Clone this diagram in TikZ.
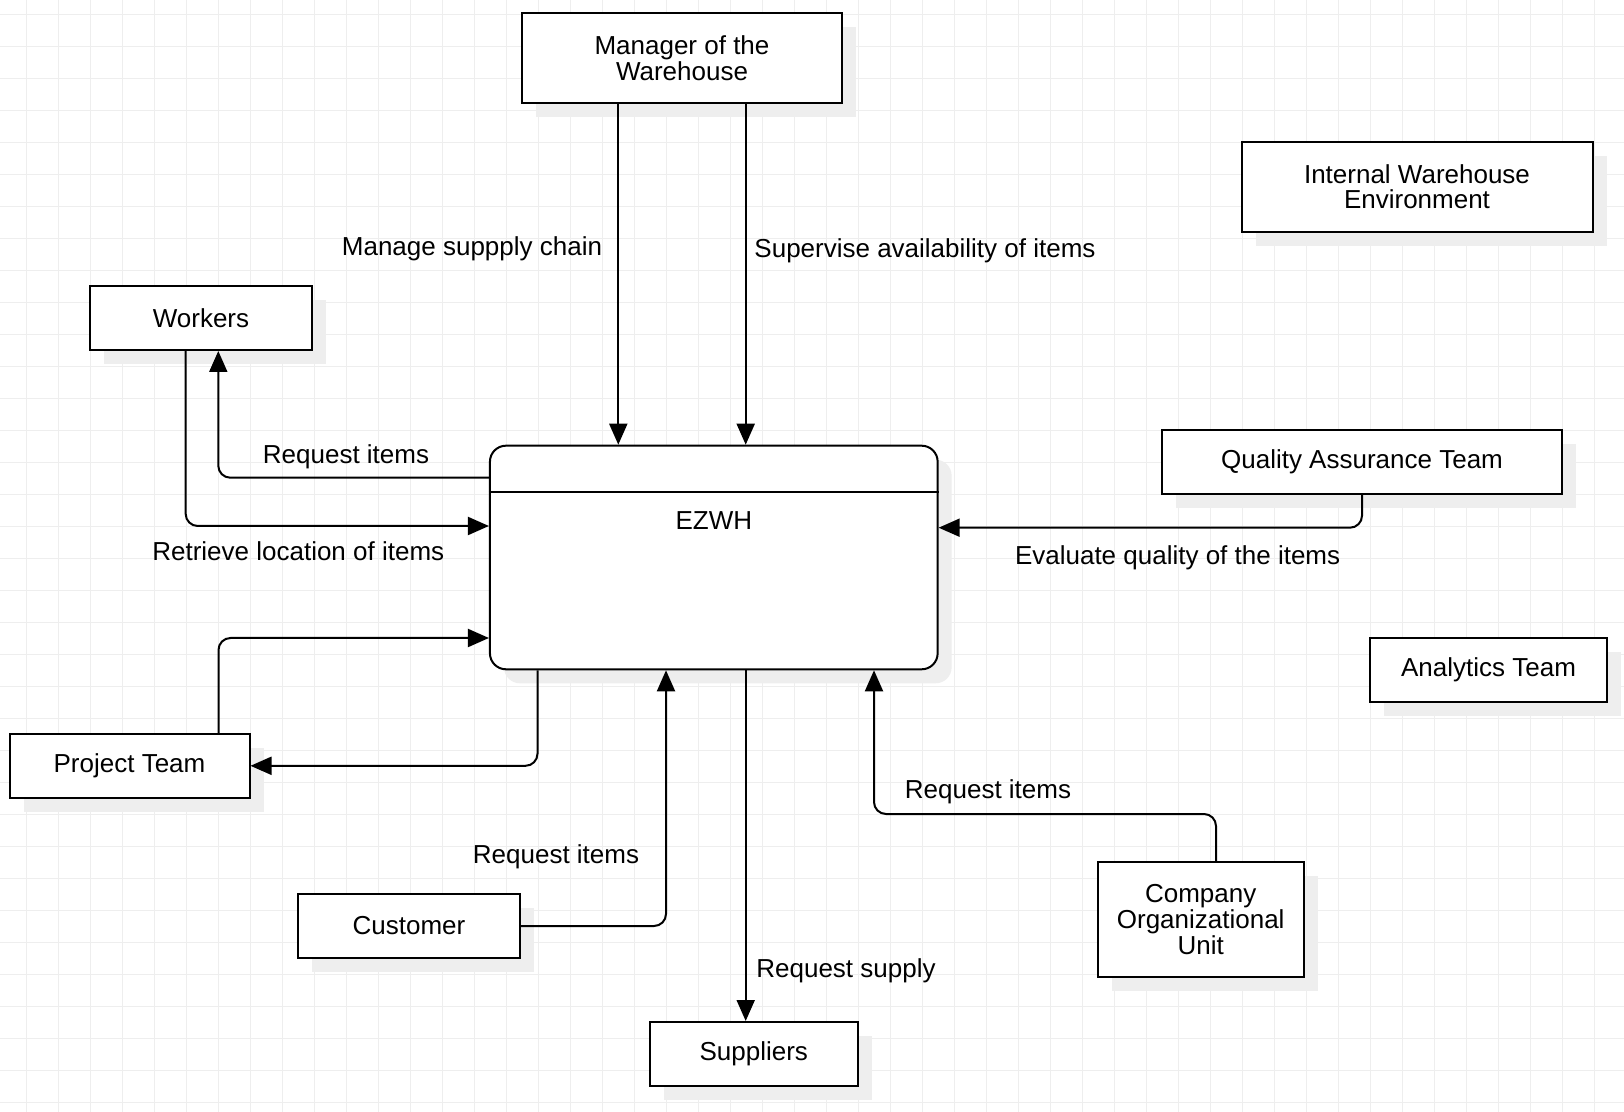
\documentclass[tikz,border=0pt]{standalone}
\usepackage{fontspec}
\setmainfont{Liberation Sans}
\usetikzlibrary{arrows.meta,shadows}
\definecolor{gridc}{RGB}{238,238,238}
\definecolor{shadc}{RGB}{238,238,238}
\begin{document}
\begin{tikzpicture}[x=0.5pt,y=-0.5pt,
  font=\fontsize{13}{12.8}\selectfont,
  box/.style={draw=black,line width=1pt,fill=white,inner sep=0pt,align=center,
    general shadow={fill=shadc,shadow xshift=7pt,shadow yshift=-7pt}},
  gridline/.style={draw=gridc,line width=0.5pt},
  arr/.style={draw=black,line width=1pt,rounded corners=6pt,-{Triangle[length=10.5pt,width=9pt]}},
  lbl/.style={inner sep=0pt,anchor=center}]
\useasboundingbox (0,0) rectangle (1624,1112);
\fill[white] (0,0) rectangle (1624,1112);
\foreach \x in {26.7,58.7,...,1624} \draw[gridline] (\x,0) -- (\x,1112);
\foreach \y in {14.3,46.3,...,1112} \draw[gridline] (0,\y) -- (1624,\y);

% boxes
\node[box,minimum width=160pt,minimum height=45pt] (mgr) at (682,58.5) {Manager of the\\Warehouse};
\node[box,minimum width=175.5pt,minimum height=45pt] (iwe) at (1417,186.7) {Internal Warehouse\\Environment};
\node[box,minimum width=111pt,minimum height=32pt] (wk) at (201,318) {Workers};
\node[box,rounded corners=8pt,minimum width=223.85pt,minimum height=111.8pt] (ez) at (713.8,557.5) {};
\node[box,minimum width=200pt,minimum height=32pt] (qa) at (1362,462) {Quality Assurance Team};
\node[box,minimum width=118.5pt,minimum height=32pt] (an) at (1488.5,670) {Analytics Team};
\node[box,minimum width=120pt,minimum height=32pt] (pt) at (129.5,765.8) {Project Team};
\node[box,minimum width=111pt,minimum height=32pt] (cu) at (409,926) {Customer};
\node[box,minimum width=104pt,minimum height=32pt] (su) at (753.8,1054) {Suppliers};
\node[box,minimum width=103pt,minimum height=57.5pt] (co) at (1200.7,919.5) {Company\\Organizational\\Unit};

\draw[line width=1pt] (ez.west |- 0,491.7) -- (ez.east |- 0,491.7);
\node[lbl] (ezl) at (713.8,521) {EZWH};

% connectors
\draw[arr] (mgr.south -| 618.3,0) -- (ez.north -| 618.3,0);
\draw[arr] (mgr.south -| 745.7,0) -- (ez.north -| 745.7,0);
\draw[arr] (ez.west |- 0,477.7) -| (wk.south -| 218.3,0);
\draw[arr] (wk.south -| 185.7,0) |- (ez.west |- 0,526);
\draw[arr] (pt.north -| 218.5,0) |- (ez.west |- 0,638);
\draw[arr] (ez.south -| 537.5,0) |- (pt.east);
\draw[arr] (cu.east) -| (ez.south -| 666,0);
\draw[arr] (ez.south -| 745.7,0) -- (su.north -| 745.7,0);
\coordinate (cobend) at (1216,814);
\draw[arr] (co.north -| cobend) -- (cobend) -| (ez.south -| 874,0);
\draw[arr] (qa.south) |- (ez.east |- 0,527.7);

% labels
\node[lbl] (l1) at (472,248.5) {Manage suppply chain};
\node[lbl] (l2) at (925,250.6) {Supervise availability of items};
\node[lbl] (l3) at (346,456.7) {Request items};
\node[lbl] (l4) at (298.3,551) {Retrieve location of items};
\node[lbl] (l5) at (1177.6,558) {Evaluate quality of the items};
\node[lbl] (l6) at (556,856.5) {Request items};
\node[lbl] (l7) at (988,792) {Request items};
\node[lbl] (l8) at (846,970.4) {Request supply};
\end{tikzpicture}
\end{document}
